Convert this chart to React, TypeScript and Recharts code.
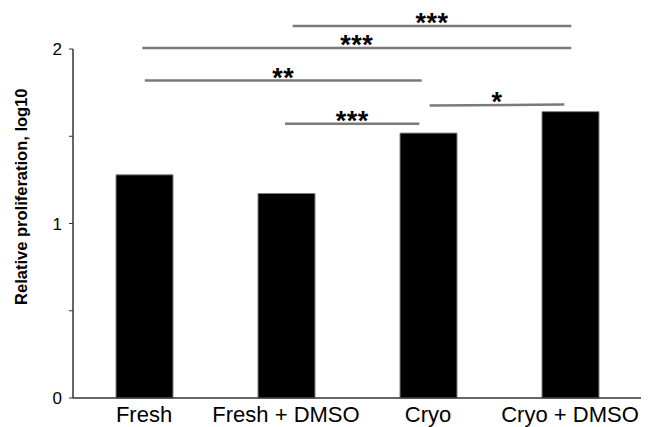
import { BarChart, Bar, XAxis, YAxis, ReferenceLine } from "recharts";

const categories = ["Fresh", "Fresh + DMSO", "Cryo", "Cryo + DMSO"];
const values = [1.279, 1.172, 1.518, 1.641];
const yTicks = [0, 0.5, 1, 1.5, 2];

// significance brackets (x in category index units, y in data units)
const sigX1 = [1.047, -0.012, 0.006, 0.993, 2.012];
const sigX2 = [3.009, 3.009, 1.956, 1.939, 2.96];
const sigY1 = [2.132, 2.006, 1.819, 1.571, 1.676];
const sigY2 = [2.132, 2.006, 1.819, 1.571, 1.682];
const sigLabels = ["***", "***", "**", "***", "*"];

const data = categories.map((name, i) => ({ pos: i, name, value: values[i] }));

function Stars({ viewBox, text }: { viewBox?: { x: number; y: number; width: number; height: number }; text: string }) {
  if (!viewBox) return null;
  const cx = viewBox.x + viewBox.width / 2;
  const cy = viewBox.y + viewBox.height / 2;
  return (
    <text
      x={cx}
      y={cy + 6}
      textAnchor="middle"
      fontFamily="Liberation Sans, Arial, sans-serif"
      fontWeight="bold"
      fontSize={27}
      letterSpacing={0.5}
      fill="#000"
    >
      {text}
    </text>
  );
}

export default function App() {
  return (
    <div style={{ position: "absolute", left: 0, top: 0, background: "#fff" }}>
      <BarChart width={657} height={427} data={data} margin={{ top: 49, right: 16, bottom: 1, left: 0 }}>
        <XAxis
          dataKey="pos"
          type="number"
          domain={[-0.5, 3.5]}
          ticks={[0, 1, 2, 3]}
          tickFormatter={(v: number) => categories[v]}
          tickLine={false}
          axisLine={{ stroke: "#333", strokeWidth: 1.5 }}
          height={28}
          tick={{ fill: "#000", fontSize: 22, fontFamily: "Liberation Sans, Arial, sans-serif" }}
        />
        <YAxis
          type="number"
          domain={[0, 2]}
          ticks={yTicks}
          tickFormatter={(v: number) => (Number.isInteger(v) ? String(v) : "")}
          width={73}
          tickSize={4}
          tickMargin={7}
          tickLine={{ stroke: "#333" }}
          axisLine={{ stroke: "#333", strokeWidth: 1.5 }}
          tick={{ fill: "#000", fontSize: 17, fontFamily: "Liberation Sans, Arial, sans-serif" }}
          label={{
            content: () => (
              <text
                x={21.5}
                y={196.7}
                transform="rotate(-90, 21.5, 196.7)"
                textAnchor="middle"
                dominantBaseline="central"
                fontFamily="Liberation Sans, Arial, sans-serif"
                fontWeight="bold"
                fontSize={16.5}
                fill="#000"
              >
                Relative proliferation, log10
              </text>
            ),
          }}
        />
        <Bar dataKey="value" fill="#000" stroke="#808080" strokeWidth={1} barSize={57} isAnimationActive={false} />
        {sigLabels.map((s, i) => (
          <ReferenceLine
            key={i}
            segment={[
              { x: sigX1[i], y: sigY1[i] },
              { x: sigX2[i], y: sigY2[i] },
            ]}
            stroke="#7a7a7a"
            strokeWidth={2.5}
            ifOverflow="visible"
            label={<Stars text={s} />}
          />
        ))}
      </BarChart>
    </div>
  );
}
